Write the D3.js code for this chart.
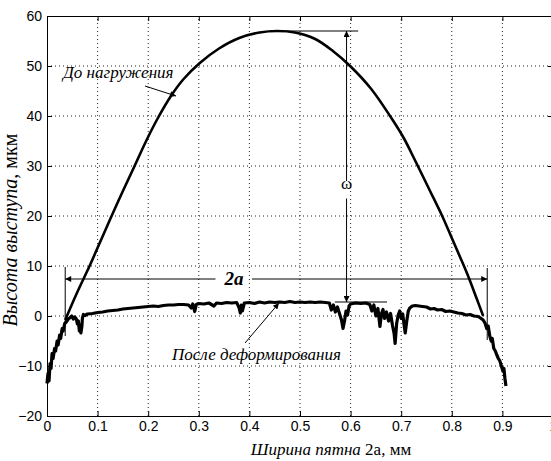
<!DOCTYPE html>
<html>
<head>
<meta charset="utf-8">
<script src="https://cdn.jsdelivr.net/npm/d3@7"></script>
<style>
  body { margin: 0; background: #fff; }
  .grid line { stroke: #222; stroke-width: 1; stroke-dasharray: 1,3; }
  .axis path, .axis line { stroke: #000; }
  .axis text { font-family: "Liberation Sans", Arial, sans-serif; font-size: 14px; fill: #000; }
  .note { font-family: "Liberation Serif", "Times New Roman", serif; fill: #000; }
</style>
</head>
<body>
<div id="chart"></div>
<script>
var w = 551, h = 461;

// tick values / labels
var xTicks = [0, 0.1, 0.2, 0.3, 0.4, 0.5, 0.6, 0.7, 0.8, 0.9, 1];
var xTickLabels = ["0", "0.1", "0.2", "0.3", "0.4", "0.5", "0.6", "0.7", "0.8", "0.9", "1"];
var yTicks = [-20, -10, 0, 10, 20, 30, 40, 50, 60];

// "До нагружения" profile
var beforeX = [0.036, 0.060, 0.085, 0.105, 0.125, 0.150, 0.174, 0.195, 0.217, 0.245, 0.270, 0.302, 0.340, 0.380, 0.420, 0.455,
  0.490, 0.530, 0.565, 0.599, 0.640, 0.678, 0.705, 0.727, 0.757, 0.781, 0.800, 0.818, 0.833, 0.848, 0.862];
var beforeY = [-0.8, 4.8, 10.2, 14.8, 19.4, 25.0, 30.2, 34.8, 39.2, 44.0, 47.4, 50.6, 53.5, 55.6, 56.7, 57.0,
  56.7, 55.4, 53.0, 50.0, 45.5, 40.0, 35.6, 31.2, 25.0, 20.0, 15.6, 11.4, 7.8, 3.8, 0.0];

// "После деформирования" profile
var afterX = [0.000, 0.002, 0.004, 0.006, 0.008, 0.010, 0.012, 0.015, 0.017, 0.020, 0.022, 0.025, 0.027, 0.030, 0.032, 0.035,
  0.038, 0.042, 0.046, 0.049, 0.052, 0.055, 0.058, 0.060, 0.062, 0.064, 0.066, 0.067, 0.069, 0.070, 0.072, 0.075,
  0.080, 0.090, 0.100, 0.110, 0.120, 0.130, 0.140, 0.150, 0.160, 0.170, 0.180, 0.190, 0.200, 0.210, 0.220, 0.230,
  0.240, 0.250, 0.260, 0.270, 0.280, 0.285, 0.288, 0.292, 0.295, 0.300, 0.310, 0.320, 0.330, 0.335, 0.345, 0.355,
  0.365, 0.375, 0.380, 0.382, 0.384, 0.386, 0.390, 0.400, 0.410, 0.420, 0.430, 0.440, 0.450, 0.460, 0.470, 0.480,
  0.490, 0.500, 0.510, 0.520, 0.530, 0.540, 0.550, 0.558, 0.562, 0.566, 0.570, 0.574, 0.578, 0.582, 0.585, 0.588,
  0.591, 0.594, 0.597, 0.600, 0.610, 0.620, 0.630, 0.638, 0.642, 0.646, 0.650, 0.654, 0.658, 0.661, 0.664, 0.667,
  0.671, 0.675, 0.679, 0.683, 0.686, 0.688, 0.691, 0.694, 0.697, 0.700, 0.703, 0.706, 0.708, 0.711, 0.714, 0.717,
  0.722, 0.728, 0.735, 0.742, 0.750, 0.758, 0.765, 0.772, 0.780, 0.788, 0.796, 0.804, 0.812, 0.820, 0.828, 0.836,
  0.844, 0.852, 0.858, 0.862, 0.866, 0.869, 0.872, 0.875, 0.878, 0.880, 0.883, 0.886, 0.889, 0.892, 0.895, 0.898,
  0.901, 0.903, 0.905, 0.907];
var afterY = [-13.5, -11.5, -13.0, -9.5, -10.5, -7.5, -8.5, -6.5, -7.0, -5.0, -5.8, -3.8, -4.5, -2.5, -3.0, -1.5,
  -1.2, -0.6, -0.3, 0.0, -0.6, -0.2, -0.6, -1.6, -1.0, -3.0, -1.8, -3.4, -2.0, -0.4, 0.3, 0.1,
  0.4, 0.5, 0.7, 0.8, 1.0, 1.1, 1.2, 1.4, 1.5, 1.6, 1.7, 1.8, 1.9, 2.0, 1.9, 2.1,
  2.2, 2.2, 2.3, 2.3, 2.2, 1.6, 2.4, 0.9, 2.3, 2.5, 2.4, 2.6, 2.0, 2.6, 2.5, 2.7,
  2.6, 2.7, 1.5, 0.6, 2.2, 1.0, 2.6, 2.7, 2.5, 2.8, 2.6, 2.8, 2.7, 2.8, 2.7, 2.9,
  2.7, 2.8, 2.7, 2.8, 2.7, 2.8, 2.7, 2.6, 1.2, 2.2, 0.8, 1.8, 0.5, -0.8, -2.5, -1.0,
  1.0, 0.2, 2.0, 2.4, 2.6, 2.5, 2.6, 2.3, 1.0, 2.2, 0.0, 1.5, -2.1, 0.5, 1.3, -0.5,
  0.8, -1.0, 0.5, -2.0, -3.5, -5.5, -1.5, 0.2, 1.0, -0.5, 0.4, -2.0, -3.4, -1.0, 1.0, 1.6,
  2.0, 2.1, 2.0, 1.9, 1.8, 1.4, 1.5, 1.2, 1.3, 0.9, 1.0, 0.8, 0.6, 0.5, 0.2, 0.3,
  0.0, -0.1, -0.5, -0.8, -1.5, -2.5, -2.0, -4.0, -5.0, -4.5, -6.5, -7.0, -7.8, -8.5, -9.0, -10.0,
  -11.0, -10.5, -12.5, -14.0];

var svg = d3.select("#chart").append("svg").attr("width", w).attr("height", h);
svg.append("rect").attr("width", w).attr("height", h).attr("fill", "#fff");

var x = d3.scaleLinear().domain([0, 1]).range([47, 553]);
var y = d3.scaleLinear().domain([-20, 60]).range([416, 16]);

// dotted grid
svg.append("g").attr("class", "grid")
  .selectAll("line").data(xTicks.slice(1)).enter().append("line")
  .attr("x1", function(d) { return x(d); }).attr("x2", function(d) { return x(d); })
  .attr("y1", y(-20)).attr("y2", y(60));
svg.append("g").attr("class", "grid")
  .selectAll("line").data(yTicks.slice(1, -1)).enter().append("line")
  .attr("x1", x(0)).attr("x2", x(1))
  .attr("y1", function(d) { return y(d); }).attr("y2", function(d) { return y(d); });

// axes, ticks pointing inward
svg.append("g").attr("class", "axis").attr("transform", "translate(0," + y(-20) + ")")
  .call(d3.axisBottom(x).tickValues(xTicks).tickFormat(function(d, i) { return xTickLabels[i]; })
    .tickSizeInner(-5).tickSizeOuter(0).tickPadding(5));
svg.append("g").attr("class", "axis").attr("transform", "translate(" + x(0) + ",0)")
  .call(d3.axisLeft(y).tickValues(yTicks).tickSizeInner(-5).tickSizeOuter(0).tickPadding(5));
svg.append("g").attr("class", "axis").attr("transform", "translate(0," + y(60) + ")")
  .call(d3.axisTop(x).tickValues(xTicks).tickFormat("").tickSizeInner(-5).tickSizeOuter(0));
svg.append("g").attr("class", "axis").attr("transform", "translate(" + x(1) + ",0)")
  .call(d3.axisRight(y).tickValues(yTicks).tickFormat("").tickSizeInner(-5).tickSizeOuter(0));

var smooth = d3.line().curve(d3.curveCatmullRom)
  .x(function(d) { return x(d[0]); }).y(function(d) { return y(d[1]); });
var line = d3.line().x(function(d) { return x(d[0]); }).y(function(d) { return y(d[1]); });

svg.append("path").datum(d3.zip(beforeX, beforeY)).attr("d", smooth)
  .attr("fill", "none").attr("stroke", "#000").attr("stroke-width", 2.6);
svg.append("path").datum(d3.zip(afterX, afterY)).attr("d", line)
  .attr("fill", "none").attr("stroke", "#000").attr("stroke-width", 3.2).attr("stroke-linejoin", "round");

// arrow markers
var defs = svg.append("defs");
defs.append("marker").attr("id", "arr").attr("viewBox", "0 0 10 10").attr("refX", 10).attr("refY", 5)
  .attr("markerWidth", 9).attr("markerHeight", 6).attr("markerUnits", "userSpaceOnUse")
  .attr("orient", "auto")
  .append("path").attr("d", "M0,0 L10,5 L0,10 z").attr("fill", "#000");

function seg(x1, y1, x2, y2, arrow) {
  var l = svg.append("line").attr("x1", x1).attr("y1", y1).attr("x2", x2).attr("y2", y2)
    .attr("stroke", "#000").attr("stroke-width", 1);
  if (arrow) l.attr("marker-end", "url(#arr)");
  return l;
}

// 2a dimension
seg(x(0.036), y(9.8), x(0.036), y(-4));
seg(x(0.870), y(9.6), x(0.870), y(-4.8));
seg(x(0.333), y(7.4), x(0.036), y(7.4), true);
seg(x(0.405), y(7.4), x(0.870), y(7.4), true);
svg.append("text").attr("class", "note").attr("x", 234).attr("y", y(7.4) + 6)
  .attr("text-anchor", "middle").attr("font-size", 19).attr("font-style", "italic").attr("font-weight", "bold")
  .text("2a");

// omega dimension
seg(x(0.44), y(57), x(0.615), y(57));
seg(x(0.569), y(2.8), x(0.672), y(2.8));
seg(x(0.592), y(27), x(0.592), y(57), true);
seg(x(0.592), y(23.5), x(0.592), y(2.8), true);
svg.append("text").attr("class", "note").attr("x", x(0.592)).attr("y", 189)
  .attr("text-anchor", "middle").attr("font-size", 17).text("ω");

// curve labels
svg.append("text").attr("class", "note").attr("x", 63).attr("y", 78)
  .attr("font-size", 17).attr("font-style", "italic").text("До нагружения");
seg(145, 86, 176, 96, true);
svg.append("text").attr("class", "note").attr("x", 172).attr("y", 360)
  .attr("font-size", 17).attr("font-style", "italic").text("После деформирования");
seg(245, 343, 279, 303, true);

// axis titles
var yl = svg.append("text").attr("class", "note").attr("font-size", 20)
  .attr("text-anchor", "middle").attr("transform", "translate(17,230) rotate(-90)");
yl.append("tspan").attr("font-style", "italic").text("Высота выступа,");
yl.append("tspan").text(" мкм");
var xl = svg.append("text").attr("class", "note").attr("font-size", 17)
  .attr("text-anchor", "middle").attr("x", 331).attr("y", 455);
xl.append("tspan").attr("font-style", "italic").text("Ширина пятна");
xl.append("tspan").text(" 2a, мм");
</script>
</body>
</html>
